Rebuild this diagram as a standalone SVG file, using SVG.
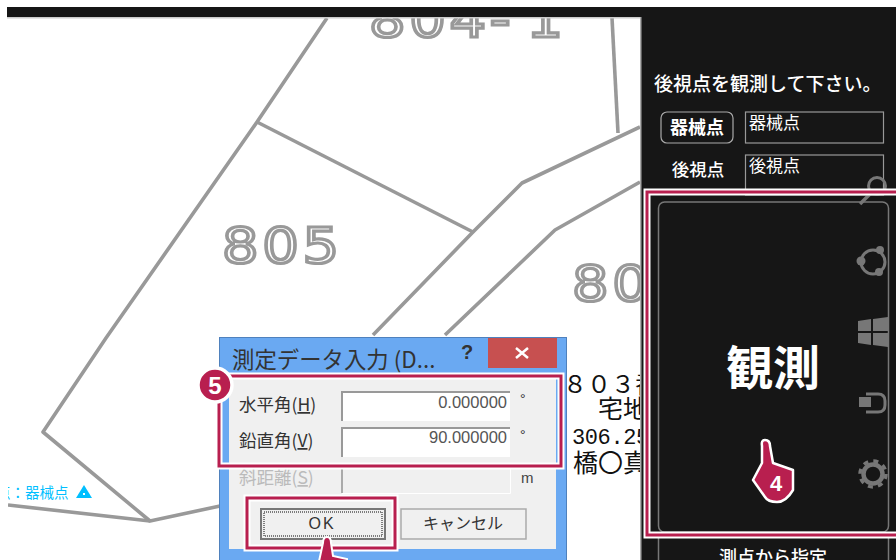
<svg xmlns="http://www.w3.org/2000/svg" width="896" height="560" viewBox="0 0 896 560">
<defs>
<style>
text{font-family:"Liberation Sans","Noto Sans CJK JP",sans-serif}
.j{font-family:"Noto Sans CJK JP",sans-serif}
.map{fill:none;stroke:#999;stroke-width:3.6;stroke-linejoin:round}
.num{font-family:"DejaVu Sans",sans-serif;fill:none;stroke:#999;stroke-width:3.200;font-size:50px}
.blk{fill:#111;font-size:25px}
.hl{fill:none;stroke:#b81f4f;stroke-width:3}
.hw{fill:none;stroke:#fff;stroke-width:7}
.lbl{fill:#fff;font-size:18px}
.dl{fill:#333;font-size:17.500px}
.val{fill:#555;font-size:16.500px;text-anchor:end}
.icon{fill:#777}
.ln{fill:none;stroke:#777;stroke-width:1.5}
.u{text-decoration:underline}
.sunk{fill:none;stroke:#999;stroke-width:2}
</style>
<clipPath id="pg"><rect x="8" y="0" width="632" height="560"/></clipPath>
<clipPath id="rb"><rect x="640" y="0" width="256" height="560"/></clipPath>
</defs>
<rect width="896" height="560" fill="#fff"/>
<g id="map" clip-path="url(#pg)">
<path class="map" d="M327 18L257 122L106 338L43 432L150 521L220 506"/>
<path class="map" d="M8 505L150 521"/>
<path class="map" d="M257 122L473 232"/>
<path class="map" d="M373 335L473 232L522 183L640 127"/>
<path class="map" d="M612 18L618 133"/>
<path class="map" d="M445 335L555 230L640 182"/>
<text class="num" transform="translate(369 37) scale(1.15 1)" x="0 35 70 105 137">804-1</text>
<text class="num" transform="translate(222 263) scale(1.15 1)" x="0 35 70">805</text>
<text class="num" transform="translate(572 301) scale(1.15 1)" x="0 35">80</text>
<text class="j blk" x="563" y="393" style="font-size:24px">８０３番</text>
<text class="j blk" x="598" y="418">宅地</text>
<text class="blk" x="572" y="444" style="font-family:'Liberation Mono',monospace;font-size:22px" letter-spacing="-0.400">306.25</text>
<text class="j blk" x="573" y="472">橋〇真</text>
<text class="j" x="-4" y="498" font-size="14.500" fill="#00bfff">点：器械点</text>
<path d="M84 485L92 498H76Z" fill="#00bfff"/>
<rect x="83" y="493" width="2" height="2" fill="#fff"/>
</g>
<g id="top-bar"><rect x="0" y="0" width="896" height="7" fill="#fff"/><rect x="7" y="7" width="889" height="10" fill="#161616"/><rect x="7" y="17" width="633" height="1.5" fill="#ccc"/></g>
<g id="panel">
<rect x="640" y="17" width="256" height="543" fill="#161616"/>
<rect x="640" y="17" width="1.5" height="543" fill="#aaa"/>
<text class="j lbl" x="654" y="91" font-weight="500" style="font-size:19px">後視点を観測して下さい。</text>
<rect x="661" y="112" width="72" height="31" rx="6" fill="none" stroke="#aaa" stroke-width="1.2"/>
<text class="j lbl" x="697" y="134" text-anchor="middle" font-weight="700">器械点</text>
<rect x="745.500" y="112" width="138" height="31" fill="none" stroke="#999" stroke-width="1.2"/>
<text class="j" x="749" y="129" font-size="17" fill="#fff">器械点</text>
<text class="j" x="698" y="176" font-size="17.500" fill="#fff" text-anchor="middle" font-weight="500">後視点</text>
<rect x="745.500" y="155" width="138" height="40" fill="none" stroke="#999" stroke-width="1.2"/>
<text class="j" x="749" y="172" font-size="17" fill="#fff">後視点</text>
<rect x="658.500" y="202" width="230" height="330" rx="6" class="ln"/>
<path class="ln" d="M658.500 538V560M888.500 538V560"/>
<text class="j" x="773" y="564" font-size="18" fill="#fff" text-anchor="middle" font-weight="500">測点から指定</text>
<text class="j" x="773" y="385" font-size="47" fill="#fff" text-anchor="middle" font-weight="700">観測</text>
</g>
<g id="side-icons">
<circle cx="877" cy="186" r="8.500" fill="none" stroke="#777" stroke-width="3"/>
<path d="M871 193L860 204" stroke="#777" stroke-width="3.500"/>
<circle cx="873" cy="262" r="12" fill="none" stroke="#777" stroke-width="3"/>
<circle class="icon" cx="880" cy="250" r="4"/><circle class="icon" cx="861" cy="261" r="4.500"/><circle class="icon" cx="879" cy="272" r="4"/>
<path class="icon" d="M858 321L871 319V331H858ZM873 319L888 317V331H873ZM858 333H871V345L858 343ZM873 333H888V347L873 345Z"/>
<rect class="icon" x="859" y="397" width="12" height="10"/>
<path d="M866 394H878Q885 394 885 401V405Q885 412 878 412H866" fill="none" stroke="#777" stroke-width="3"/>
<circle cx="873" cy="474" r="9.500" fill="none" stroke="#777" stroke-width="4.500"/>
<circle cx="873" cy="474" r="13" fill="none" stroke="#777" stroke-width="3.500" stroke-dasharray="5 5.200"/>
</g>
<g id="highlight-4" clip-path="url(#rb)">
<rect x="647" y="192" width="260" height="343" class="hw"/>
<rect x="647" y="192" width="260" height="343" class="hl"/>
</g>
<g id="hand-4">
<path d="M765 440Q770 440 770 446L773 463L793 470V490Q786 502 777 502Q768 502 765 497L753 480L762 463V446Q761 440 765 440Z" fill="#b81f4f" stroke="#fff" stroke-width="2.500" stroke-linejoin="round"/>
<text x="776" y="491" font-size="22" font-weight="700" fill="#fff" text-anchor="middle">4</text>
</g>
<g id="dialog">
<rect x="219.500" y="337.500" width="347" height="223" fill="#6aa9f2" stroke="#4f81bd"/>
<rect x="229" y="376" width="327" height="173" fill="#f0f0f0"/>
<rect x="488" y="338" width="69" height="30" fill="#c75050"/>
<path d="M516 348L528 358M528 348L516 358" stroke="#fff" stroke-width="2.500"/>
<text class="j" x="232" y="368" font-size="22.400" fill="#333">測定データ入力 (D...</text>
<text x="467" y="359" font-size="20" font-weight="700" fill="#333" text-anchor="middle">?</text>
<text class="j dl" x="239" y="411">水平角(<tspan class="u">H</tspan>)</text>
<rect x="341" y="391" width="169" height="30" fill="#fff"/>
<path class="sunk" d="M342 421V392H510"/>
<text class="val" x="507" y="408">0.000000</text>
<text class="dl" x="520" y="404" style="font-size:14px">°</text>
<text class="j dl" x="239" y="447">鉛直角(<tspan class="u">V</tspan>)</text>
<rect x="341" y="427" width="169" height="30" fill="#fff"/>
<path class="sunk" d="M342 457V428H510"/>
<text class="val" x="507" y="443">90.000000</text>
<text class="dl" x="520" y="440" style="font-size:14px">°</text>
<text class="j" x="239" y="484" font-size="17.500" fill="#bbb">斜距離(<tspan class="u">S</tspan>)</text>
<path d="M342 493V463" fill="none" stroke="#aaa" stroke-width="2"/>
<path d="M342 493.500H510.500V463" fill="none" stroke="#fff" stroke-width="1"/>
<text x="521" y="483" font-size="15" fill="#444">m</text>
<rect x="261" y="509" width="124" height="30" fill="#f0f0f0" stroke="#777" stroke-width="2"/>
<rect x="264" y="512" width="118" height="24" fill="none" stroke="#555" stroke-width="1.500" stroke-dasharray="1 1"/>
<text x="322" y="529" font-size="16" fill="#333" text-anchor="middle" letter-spacing="2px">OK</text>
<rect x="401" y="509" width="125" height="30" fill="#f0f0f0" stroke="#aaa" stroke-width="1.500"/>
<text class="j" x="463" y="529" font-size="16" fill="#333" text-anchor="middle">キャンセル</text>
</g>
<g id="highlight-5">
<rect x="219" y="376" width="342" height="90" class="hw"/>
<rect x="219" y="376" width="342" height="90" class="hl"/>
<circle cx="215" cy="385" r="17" fill="#b81f4f" stroke="#fff" stroke-width="3.500"/>
<text x="215" y="394" font-size="24" font-weight="700" fill="#fff" text-anchor="middle">5</text>
</g>
<g id="highlight-ok">
<rect x="247" y="498" width="148" height="50" class="hw"/>
<rect x="247" y="498" width="148" height="50" class="hl"/>
<path d="M327 537Q331 537 331 543L333 556L347 559V566H318L323 543Q323 537 327 537Z" fill="#b81f4f" stroke="#fff" stroke-width="2"/>
</g>
</svg>
